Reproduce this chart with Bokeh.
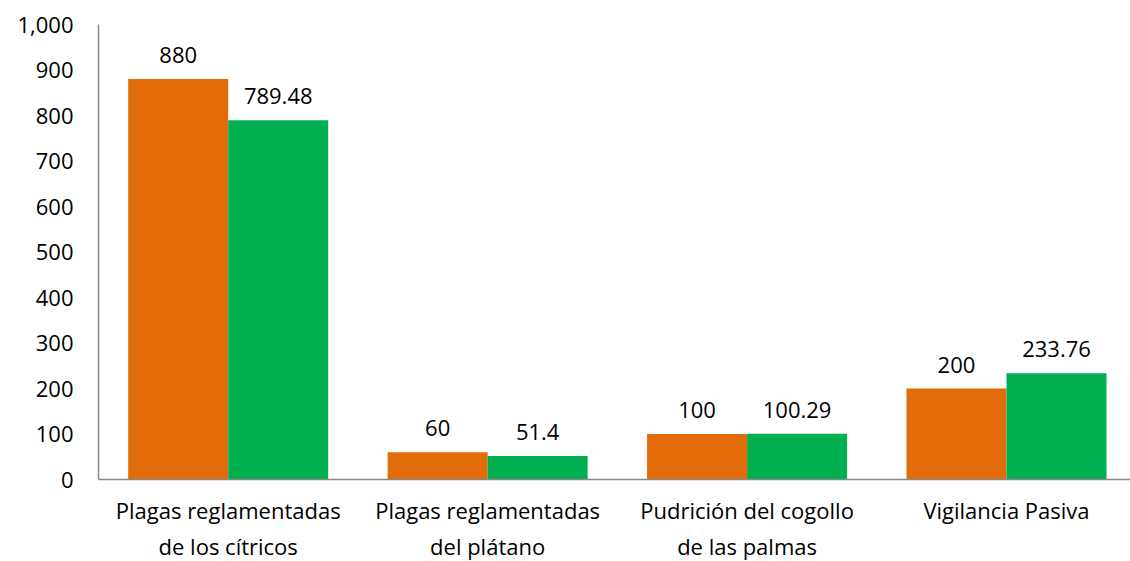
from bokeh.plotting import figure
from bokeh.models import ColumnDataSource, FixedTicker, NumeralTickFormatter, Range1d
from bokeh.embed import file_html
from bokeh.resources import INLINE
from bokeh.core.properties import value

categories = ["Plagas reglamentadas\nde los cítricos",
              "Plagas reglamentadas\ndel plátano",
              "Pudrición del cogollo\nde las palmas",
              "Vigilancia Pasiva"]
serie_meta = [880, 60, 100, 200]
serie_ejec = [789.48, 51.4, 100.29, 233.76]
labels_meta = ["880", "60", "100", "200"]
labels_ejec = ["789.48", "51.4", "100.29", "233.76"]
y_ticks = [0, 100, 200, 300, 400, 500, 600, 700, 800, 900, 1000]

FONT = "Open Sans"
FS = "22px"
ORANGE = "#E36C0A"
GREEN = "#00B050"
AXIS = "#898989"

idx = list(range(len(categories)))
bw = 0.3855
src_m = ColumnDataSource(dict(x=[i - bw / 2 for i in idx], top=serie_meta, lab=labels_meta))
src_e = ColumnDataSource(dict(x=[i + bw / 2 for i in idx], top=serie_ejec, lab=labels_ejec))

p = figure(frame_width=1032, frame_height=455, output_backend="svg", toolbar_location=None,
           x_range=Range1d(-0.5, 3.478), y_range=Range1d(0, 1000),
           min_border_left=98, min_border_top=24, min_border_bottom=82, min_border_right=0)
p.outline_line_color = None
p.xgrid.visible = False
p.ygrid.visible = False

p.vbar(x="x", top="top", width=bw, source=src_m, fill_color=ORANGE, line_color=None)
p.vbar(x="x", top="top", width=bw, source=src_e, fill_color=GREEN, line_color=None)

for s in (src_m, src_e):
    p.text(x="x", y="top", text="lab", source=s, text_align="center", text_baseline="alphabetic",
           y_offset=-24, text_font=value(FONT), text_font_size=FS, text_color="#000000")

p.yaxis.ticker = FixedTicker(ticks=y_ticks)
p.yaxis.formatter = NumeralTickFormatter(format="0,0")
p.yaxis.major_tick_line_color = None
p.yaxis.minor_tick_line_color = None
p.yaxis.major_tick_out = 0
p.yaxis.major_tick_in = 0
p.yaxis.major_label_standoff = 25
p.yaxis.axis_line_color = AXIS
p.yaxis.axis_line_width = 1.5
p.yaxis.major_label_text_font = FONT
p.yaxis.major_label_text_font_size = FS
p.yaxis.major_label_text_color = "#000000"

p.xaxis.ticker = FixedTicker(ticks=idx)
p.xaxis.major_label_overrides = {i: c for i, c in zip(idx, categories)}
p.xaxis.major_tick_line_color = None
p.xaxis.minor_tick_line_color = None
p.xaxis.major_tick_out = 0
p.xaxis.major_tick_in = 0
p.xaxis.major_label_standoff = 15
p.xaxis.axis_line_color = AXIS
p.xaxis.axis_line_width = 1.5
p.xaxis.major_label_text_font = FONT
p.xaxis.major_label_text_font_size = FS
p.xaxis.major_label_text_color = "#000000"
p.xaxis.major_label_text_line_height = 1.22

open("out.html", "w").write(file_html(p, INLINE))
